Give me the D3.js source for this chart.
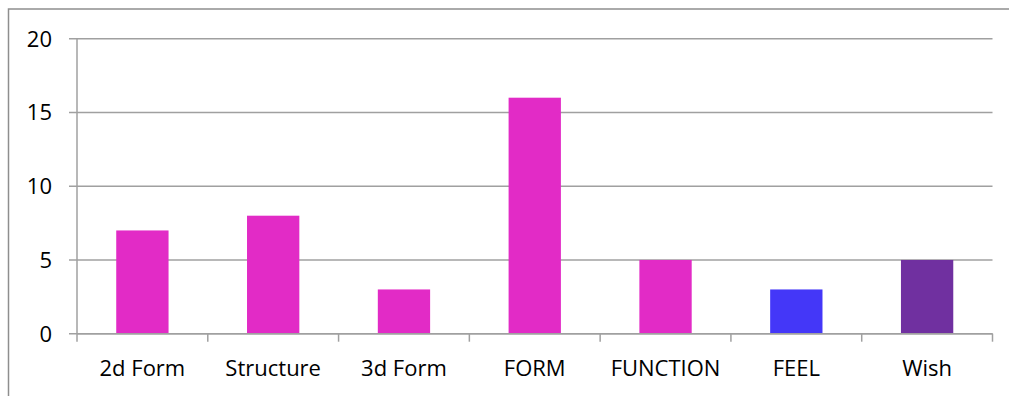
<!DOCTYPE html>
<html><head><meta charset="utf-8">
<script src="https://cdn.jsdelivr.net/npm/d3@7"></script>
<style>html,body{margin:0;padding:0;background:#fff;overflow:hidden}</style>
</head><body>
<svg id="c" width="1009" height="396"></svg>
<script>
const categories = ["2d Form","Structure","3d Form","FORM","FUNCTION","FEEL","Wish"];
const values = [7, 8, 3, 16, 5, 3, 5];
const barColors = ["#E22BC6","#E22BC6","#E22BC6","#E22BC6","#E22BC6","#4437F8","#7030A0"];
const yTicks = [0, 5, 10, 15, 20];

(function () {
const svg = d3.select("#c");
const font = "'Open Sans', sans-serif";
const grid = "#A0A0A0";

// outer chart border
svg.append("rect").attr("x", 8.5).attr("y", 9).attr("width", 1100).attr("height", 500)
  .attr("fill", "none").attr("stroke", "#8E8E8E").attr("stroke-width", 1.5);

const pLeft = 77, pRight = 992.5, pTop = 38.7, pBottom = 333.7;
const x = d3.scaleBand().domain(categories).range([pLeft, pRight]).paddingInner(0.6).paddingOuter(0.3);
const xb = d3.scaleBand().domain(categories).range([pLeft, pRight]);
const y = d3.scaleLinear().domain([0, 20]).range([pBottom, pTop]);

// gridlines
svg.append("g").selectAll("line").data(yTicks).join("line")
  .attr("x1", pLeft - 8).attr("x2", pRight)
  .attr("y1", d => y(d)).attr("y2", d => y(d))
  .attr("stroke", grid).attr("stroke-width", 1.5);

// y axis line
svg.append("line").attr("x1", pLeft).attr("x2", pLeft).attr("y1", pTop).attr("y2", pBottom)
  .attr("stroke", grid).attr("stroke-width", 1.5);

// y labels
svg.append("g").selectAll("text").data(yTicks).join("text")
  .attr("x", 52).attr("y", d => y(d)).attr("dy", "0.36em")
  .attr("text-anchor", "end").attr("font-family", font).attr("font-size", 22).attr("fill", "#000")
  .text(d => d);

// bars
svg.append("g").selectAll("rect").data(values).join("rect")
  .attr("x", (d, i) => x(categories[i]))
  .attr("width", x.bandwidth())
  .attr("y", d => y(d))
  .attr("height", d => y(0) - y(d))
  .attr("fill", (d, i) => barColors[i]);

// x axis
svg.append("line").attr("x1", pLeft).attr("x2", pRight).attr("y1", pBottom).attr("y2", pBottom)
  .attr("stroke", grid).attr("stroke-width", 1.5);
const tickXs = categories.map(c => xb(c)).concat([pRight]);
svg.append("g").selectAll("line").data(tickXs).join("line")
  .attr("x1", d => d).attr("x2", d => d).attr("y1", pBottom).attr("y2", pBottom + 8)
  .attr("stroke", grid).attr("stroke-width", 1.5);

// x labels
svg.append("g").selectAll("text").data(categories).join("text")
  .attr("x", d => xb(d) + xb.bandwidth() / 2).attr("y", 376)
  .attr("text-anchor", "middle").attr("font-family", font).attr("font-size", 22).attr("fill", "#000")
  .text(d => d);
})();
</script>
</body></html>
